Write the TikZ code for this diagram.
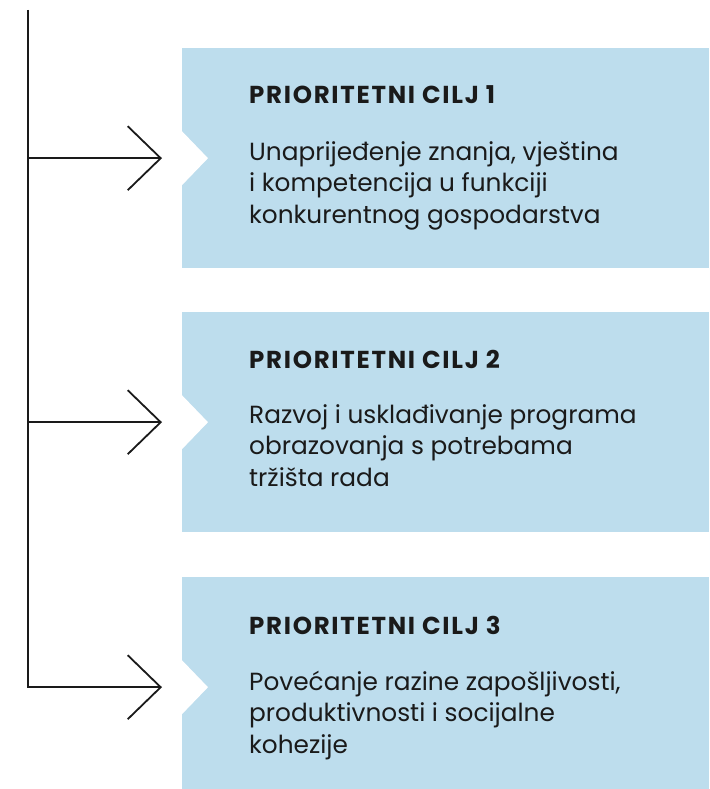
\documentclass[tikz,border=0pt]{standalone}
\usepackage{fontspec}
\setmainfont{Poppins}
\newfontfamily\titlefont[LetterSpace=7]{Poppins Bold}
\usepackage{xcolor}
\usepackage{tikz}
\usetikzlibrary{arrows.meta, positioning}

\definecolor{goalblue}{HTML}{BDDDED}
\definecolor{ink}{HTML}{1A1A1A}

\begin{document}
\begin{tikzpicture}[x=1pt, y=-1pt,
    goalbox/.style={fill=goalblue, minimum width=527pt, minimum height=220pt, inner sep=0pt, anchor=north west},
    goalnotch/.style={fill=white},
    goaltitle/.style={anchor=base west, inner sep=0pt, text=ink, font=\fontsize{24.5}{28}\titlefont},
    goaltext/.style={anchor=base west, inner sep=0pt, text=ink, align=left, font=\fontsize{24.8}{31.5}\selectfont},
    trunk/.style={line width=1.8pt, draw=ink},
    link/.style={line width=1.8pt, draw=ink, -{Straight Barb[length=33pt, width=64pt]}, shorten >=20pt}]

  \useasboundingbox (0,0) rectangle (709,789);

  % Goal boxes
  \node[goalbox] (box1) at (182,48) {};
  \node[goalbox] (box2) at (182,312) {};
  \node[goalbox] (box3) at (182,577) {};

  % notches
  \fill[goalnotch] (box1.west) ++(-1,-28) -- ++(27,28) -- ++(-27,28) -- cycle;
  \fill[goalnotch] (box2.west) ++(-1,-28) -- ++(27,28) -- ++(-27,28) -- cycle;
  \fill[goalnotch] (box3.west) ++(-1,-28) -- ++(27,28) -- ++(-27,28) -- cycle;

  % Goal 1 (text placed by its last line)
  \node[goaltitle] (title1) at (249,104) {PRIORITETNI CILJ 1};
  \node[goaltext] (text1) at (249,223) {Unaprijeđenje znanja, vještina\\i kompetencija u funkciji\\konkurentnog gospodarstva};

  % Goal 2
  \node[goaltitle] (title2) at (249,368) {PRIORITETNI CILJ 2};
  \node[goaltext] (text2) at (249,486) {Razvoj i usklađivanje programa\\obrazovanja s potrebama\\tržišta rada};

  % Goal 3
  \node[goaltitle] (title3) at (249,634) {PRIORITETNI CILJ 3};
  \node[goaltext] (text3) at (249,753) {Povećanje razine zapošljivosti,\\produktivnosti i socijalne\\kohezije};

  % Trunk and arrows
  \coordinate (top) at (28,10);
  \draw[link] (top |- box1.west) -- (box1.west);
  \draw[link] (top |- box2.west) -- (box2.west);
  \draw[link] (top) |- (box3.west);
\end{tikzpicture}
\end{document}
